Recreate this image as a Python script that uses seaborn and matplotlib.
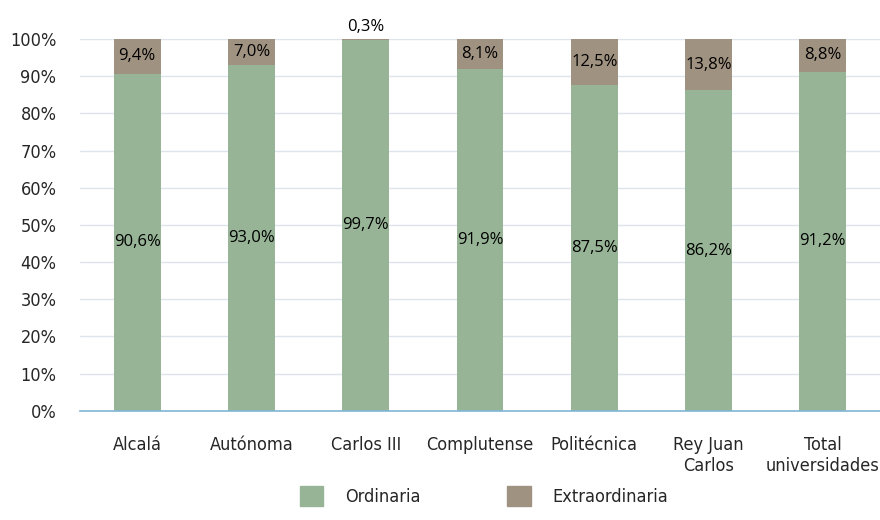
import pandas as pd
import matplotlib.pyplot as plt
import seaborn as sns
from matplotlib.patches import Patch

# Datos
universidades = ['Alcalá', 'Autónoma', 'Carlos III', 'Complutense',
                 'Politécnica', 'Rey Juan\nCarlos', 'Total\nuniversidades']
ordinaria = [90.6, 93.0, 99.7, 91.9, 87.5, 86.2, 91.2]
extraordinaria = [9.4, 7.0, 0.3, 8.1, 12.5, 13.8, 8.8]

df = pd.DataFrame({'Universidad': universidades,
                   'Ordinaria': ordinaria,
                   'Extraordinaria': extraordinaria})
df['Total'] = df['Ordinaria'] + df['Extraordinaria']

sns.set_style('white')
plt.rcParams['font.family'] = ['DejaVu Sans']
plt.rcParams['font.stretch'] = 'condensed'

verde = '#97b596'
marron = '#a09281'

fig = plt.figure(figsize=(8.8, 5.2), dpi=100)
ax = fig.add_axes([0.091, 0.21, 0.909, 0.715])

# barras apiladas: primero el total (marron), luego ordinaria (verde) encima
sns.barplot(data=df, x='Universidad', y='Total', color=marron, width=0.41,
            saturation=1, linewidth=0, ax=ax, zorder=2)
sns.barplot(data=df, x='Universidad', y='Ordinaria', color=verde, width=0.41,
            saturation=1, linewidth=0, ax=ax, zorder=3)

ax.set_ylim(0, 100)
ax.set_xlim(-0.5, len(universidades) - 0.5)
ax.set_yticks(range(0, 101, 10))
ax.set_yticklabels([f'{v}%' for v in range(0, 101, 10)], fontsize=13)
ax.tick_params(axis='x', labelsize=13, length=0, pad=18)
ax.tick_params(axis='y', length=0, pad=17)
ax.set_xlabel('')
ax.set_ylabel('')
ax.yaxis.grid(True, color='#dde4ec', linewidth=1)
ax.set_axisbelow(True)
for s in ['top', 'right', 'left']:
    ax.spines[s].set_visible(False)
ax.spines['bottom'].set_color('#7fb6d6')
ax.spines['bottom'].set_linewidth(1.2)
ax.spines['bottom'].set_zorder(4)

# etiquetas
lab = dict(fontsize=12, family='Open Sans', stretch='normal', color='black')
for i, (o, e) in enumerate(zip(ordinaria, extraordinaria)):
    ax.text(i, o / 2, f'{o:.1f}%'.replace('.', ','), ha='center', va='center',
            zorder=5, **lab)
    if e < 2:
        ax.text(i, 100 + 1, f'{e:.1f}%'.replace('.', ','), ha='center',
                va='bottom', clip_on=False, **lab)
    else:
        ax.text(i, o + e / 2, f'{e:.1f}%'.replace('.', ','), ha='center',
                va='center', zorder=5, **lab)

handles = [Patch(color=verde, label='Ordinaria'),
           Patch(color=marron, label='Extraordinaria')]
fig.legend(handles=handles, loc='lower center', bbox_to_anchor=(0.55, -0.005),
           ncol=2, frameon=False, fontsize=13, handlelength=1.3,
           handleheight=1.3, columnspacing=4.8, handletextpad=1.2)

fig.savefig('out.png', dpi=100)
